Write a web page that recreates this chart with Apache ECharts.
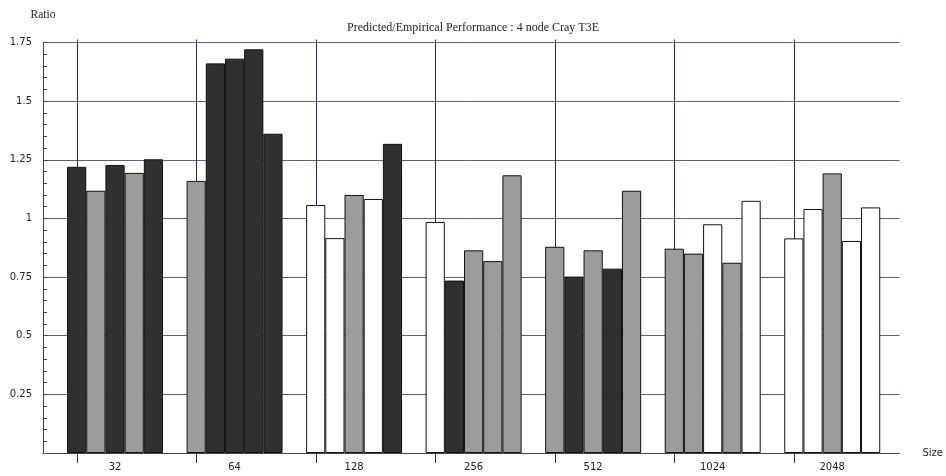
<!DOCTYPE html>
<html>
<head>
<meta charset="utf-8">
<script src="https://cdn.jsdelivr.net/npm/echarts@6/dist/echarts.min.js"></script>
<style>
  html, body { margin: 0; padding: 0; background: #fff; }
  #chart { width: 946px; height: 476px; }
</style>
</head>
<body>
<div id="chart"></div>
<script>
// problem sizes along the x axis
const sizes = ['32', '64', '128', '256', '512', '1024', '2048'];
// y axis ticks
const yTicks = { min: 0, max: 1.75, step: 0.25 };

// predicted/empirical ratio, one array per bar position in a group
const bar1 = [1.22, 1.16, 1.057, 0.985, 0.879, 0.871, 0.915];
const bar2 = [1.118, 1.661, 0.916, 0.735, 0.752, 0.85, 1.04];
const bar3 = [1.228, 1.681, 1.1, 0.864, 0.864, 0.975, 1.192];
const bar4 = [1.194, 1.721, 1.083, 0.818, 0.786, 0.811, 0.904];
const bar5 = [1.252, 1.361, 1.318, 1.184, 1.118, 1.075, 1.047];

// shade of every bar: D = dark, G = grey, W = white
const shade1 = ['D', 'G', 'W', 'W', 'G', 'G', 'W'];
const shade2 = ['G', 'D', 'W', 'D', 'D', 'G', 'W'];
const shade3 = ['D', 'D', 'G', 'G', 'G', 'W', 'G'];
const shade4 = ['G', 'D', 'W', 'G', 'D', 'G', 'W'];
const shade5 = ['D', 'D', 'D', 'G', 'G', 'W', 'W'];

const shadeColor = { D: '#303030', G: '#9c9d9a', W: '#ffffff' };

const allBars = [bar1, bar2, bar3, bar4, bar5];
const allShades = [shade1, shade2, shade3, shade4, shade5];

const txt = { fontFamily: 'DejaVu Sans', fontSize: 10, color: '#222' };

const chart = echarts.init(document.getElementById('chart'));

const makeSeries = (vals, shades, i) => ({
  name: 'bar ' + (i + 1),
  type: 'bar',
  xAxisIndex: 2,
  yAxisIndex: 2,
  barGap: '0%',
  barCategoryGap: '19.7%',
  data: vals.map((v, k) => ({
    value: v,
    itemStyle: { color: shadeColor[shades[k]] }
  })),
  itemStyle: { borderColor: '#111', borderWidth: 1 },
  emphasis: { disabled: true }
});

const hiddenY = {
  type: 'value', min: yTicks.min, max: yTicks.max, interval: yTicks.step,
  axisLine: { show: false }, axisTick: { show: false },
  axisLabel: { show: false }, splitLine: { show: false }
};

chart.setOption({
  animation: false,
  backgroundColor: '#fff',
  title: {
    text: 'Predicted/Empirical Performance : 4 node Cray T3E',
    left: 'center',
    top: 17,
    textStyle: { fontFamily: 'Liberation Serif', fontSize: 12, fontWeight: 'normal', color: '#222' }
  },
  grid: [
    // frame with horizontal lines and the y axis
    { left: 43, right: 43, top: 42.5, bottom: 23 },
    // vertical lines
    { left: 77, right: 152, top: 39.5, bottom: 23 },
    // the bars
    { left: 55.25, right: 54, top: 42.5, bottom: 23 }
  ],
  xAxis: [
    {
      gridIndex: 0, type: 'value', min: 0, max: 1,
      name: 'Size', nameLocation: 'end', nameGap: 23,
      nameTextStyle: { fontFamily: 'DejaVu Sans', fontSize: 10, color: '#222', verticalAlign: 'middle' },
      axisLine: { show: true, lineStyle: { color: '#444', width: 1 } },
      axisTick: { show: false }, axisLabel: { show: false }, splitLine: { show: false }
    },
    {
      gridIndex: 1, type: 'category', data: sizes, boundaryGap: false,
      axisLine: { show: false },
      axisTick: { show: true, length: 10, lineStyle: { color: '#333' } },
      axisLabel: { show: false },
      splitLine: { show: true, lineStyle: { color: '#24244c', width: 1 } }
    },
    {
      gridIndex: 2, type: 'category', data: sizes, boundaryGap: true,
      axisLine: { show: false }, axisTick: { show: false },
      axisLabel: { ...txt, margin: 9 },
      splitLine: { show: false }
    }
  ],
  yAxis: [
    {
      gridIndex: 0, type: 'value', min: yTicks.min, max: yTicks.max, interval: yTicks.step,
      name: 'Ratio', nameLocation: 'end', nameGap: 22,
      nameTextStyle: { fontFamily: 'Liberation Serif', fontSize: 11.5, color: '#222', align: 'center' },
      axisLine: { show: true, lineStyle: { color: '#444', width: 1 } },
      axisTick: { show: true, inside: true, length: 4, lineStyle: { color: '#444' } },
      minorTick: { show: true, splitNumber: 5, length: 4, lineStyle: { color: '#444' } },
      axisLabel: { ...txt, margin: 11, formatter: v => (v === 0 ? '' : String(v)) },
      splitLine: { show: true, lineStyle: { color: '#60607c', width: 1 } }
    },
    { gridIndex: 1, ...hiddenY },
    { gridIndex: 2, ...hiddenY }
  ],
  series: allBars.map((vals, i) => makeSeries(vals, allShades[i], i))
});
</script>
</body>
</html>
